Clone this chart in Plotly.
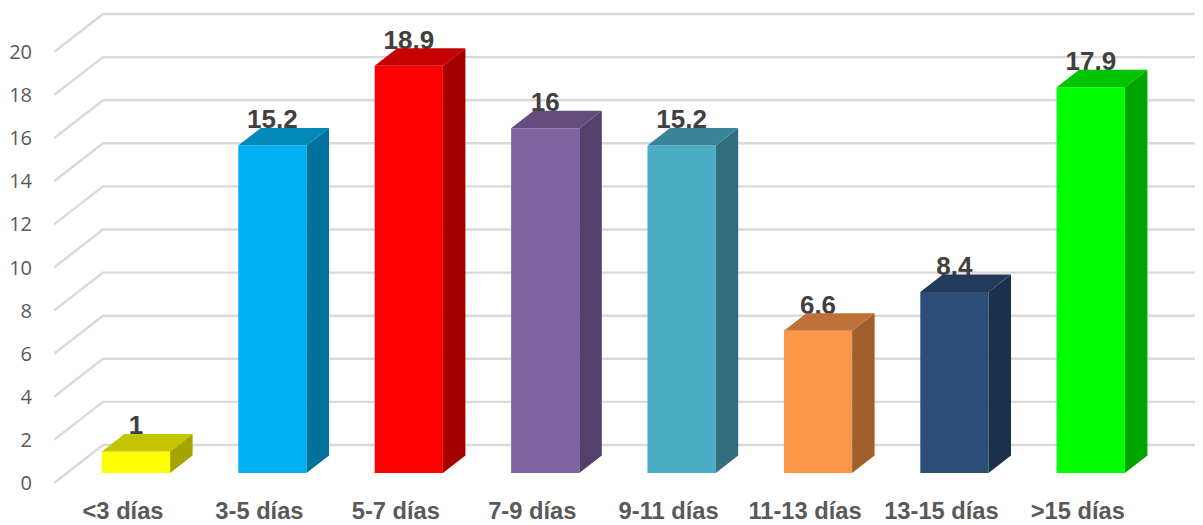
import plotly.graph_objects as go

categories = ["<3 días", "3-5 días", "5-7 días", "7-9 días", "9-11 días", "11-13 días", "13-15 días", ">15 días"]
values = [1, 15.2, 18.9, 16, 15.2, 6.6, 8.4, 17.9]
front_colors = ["#FFFF00", "#00B0F0", "#FF0000", "#8064A2", "#4BACC6", "#FB9648", "#2C4D75", "#00FF00"]
top_colors = ["#C4C400", "#0088B9", "#C40000", "#634D7D", "#3A8599", "#BE7238", "#223B5A", "#00C400"]
side_colors = ["#A5A500", "#00729C", "#A50000", "#534169", "#316F80", "#9F5F2D", "#1C324C", "#00A500"]
y_ticks = list(range(0, 21, 2))

PX_X = 136.4
PX_Y = 21.55
BAR_W = 0.5
BAR_DX = 22.5 / PX_X
BAR_DY = 17.5 / PX_Y
WALL_DY = 38 / PX_Y
X_FRONT = (54 - 136) / PX_X
X_BACK = (103 - 136) / PX_X
X_END = (1195 - 136) / PX_X
X_RIGHT = (1203 - 136) / PX_X
LABEL_SHIFT = 0.095
LABEL_DROP = 7 / PX_Y
B = 489

fig = go.Figure()

for v in y_ticks:
    fig.add_trace(go.Scatter(
        x=[X_FRONT, X_BACK, X_END], y=[v, v + WALL_DY, v + WALL_DY], mode="lines",
        line=dict(color="#D9D9D9", width=2.4), hoverinfo="skip", showlegend=False))

fig.add_trace(go.Bar(
    x=list(range(len(values))), y=values, width=BAR_W, yaxis="y2",
    marker=dict(color=front_colors, line=dict(width=0)), showlegend=False, hoverinfo="skip"))

fig.add_trace(go.Scatter(
    x=list(range(len(values))), y=[v + BAR_DY - LABEL_DROP for v in values], yaxis="y2", mode="text",
    text=[str(v) for v in values], textposition="top center",
    textfont=dict(family="Liberation Sans", size=26, color="#404040", weight="bold"),
    hoverinfo="skip", showlegend=False))

for i, v in enumerate(values):
    l, r = i - BAR_W / 2, i + BAR_W / 2
    fig.add_trace(go.Scatter(
        x=[r, r + BAR_DX, r + BAR_DX, r, r], y=[0, BAR_DY, v + BAR_DY, v, 0], yaxis="y2",
        mode="lines", fill="toself", fillcolor=side_colors[i], line=dict(width=0),
        hoverinfo="skip", showlegend=False))
    fig.add_trace(go.Scatter(
        x=[l, l + BAR_DX, r + BAR_DX, r, l], y=[v, v + BAR_DY, v + BAR_DY, v, v], yaxis="y2",
        mode="lines", fill="toself", fillcolor=top_colors[i], line=dict(width=0),
        hoverinfo="skip", showlegend=False))

fig.update_layout(
    width=1203, height=525, margin=dict(l=54, r=0, t=0, b=525 - B),
    paper_bgcolor="white", plot_bgcolor="white", showlegend=False,
    xaxis=dict(
        automargin=False,
        range=[X_FRONT, X_RIGHT], tickmode="array",
        tickvals=[i - LABEL_SHIFT for i in range(len(categories))], ticktext=categories,
        tickfont=dict(family="Liberation Sans", size=23.7, color="#595959", weight="bold"),
        tickangle=0, showgrid=False, zeroline=False, showline=False,
        ticks="outside", ticklen=1, tickcolor="rgba(0,0,0,0)"),
    yaxis=dict(
        automargin=False,
        range=[(483 - B) / PX_Y, 483 / PX_Y], tickmode="array",
        tickvals=y_ticks, ticktext=[str(t) for t in y_ticks],
        tickfont=dict(family="Open Sans", size=20, color="#595959"),
        showgrid=False, zeroline=False, showline=False,
        ticks="outside", ticklen=17, tickcolor="rgba(0,0,0,0)"),
    yaxis2=dict(
        automargin=False,
        range=[(473 - B) / PX_Y, 473 / PX_Y], overlaying="y", visible=False),
)

fig.write_html("out.html", config=dict(displayModeBar=False),
               post_script="document.body.style.margin='0';document.documentElement.style.overflow='hidden';")
